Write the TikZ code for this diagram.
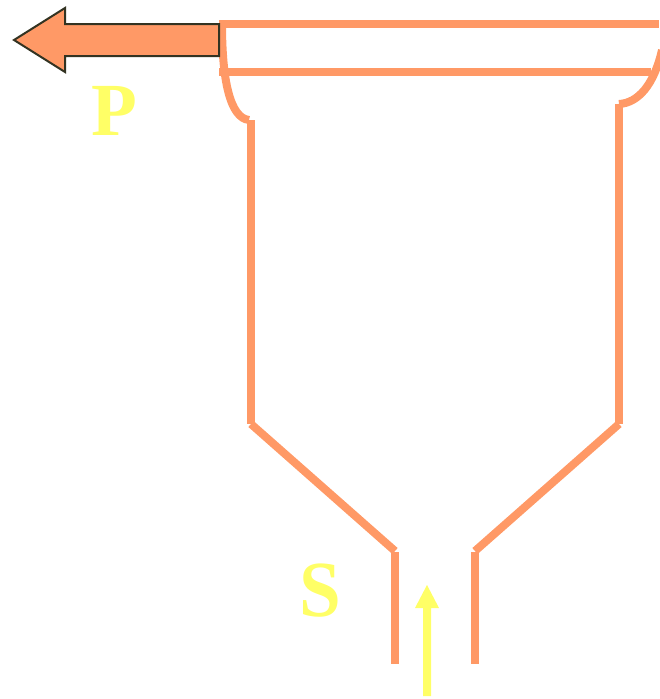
\documentclass[tikz,border=0pt]{standalone}
\usepackage{fontspec}
\setmainfont{Liberation Serif}
\definecolor{wall}{HTML}{FF9966}
\definecolor{lab}{HTML}{FFFF66}
\definecolor{edge}{HTML}{333322}
\tikzset{
  wallline/.style={draw=wall,line width=8pt,line cap=butt,line join=miter},
  biglabel/.style={text=lab,font=\bfseries\fontsize{75}{75}\selectfont,inner sep=0pt,anchor=base}
}
\begin{document}
\begin{tikzpicture}[x=1pt,y=-1pt]
\useasboundingbox (0,0) rectangle (659,699);
% vessel
\draw[wallline] (219,24) -- (659,24);
\draw[wallline] (219,72) -- (651,72);
\draw[wallline] (222,24) .. controls (222,80) and (230,118) .. (249,120);
\draw[wallline] (251,120) -- (251,424);
\draw[wallline] (662,50) .. controls (654,85) and (638,103) .. (619,104);
\draw[wallline] (619,104) -- (619,424);
\draw[wallline] (251,424) -- (395,551);
\draw[wallline] (619,424) -- (475,551);
\draw[wallline] (395,552) -- (395,664);
\draw[wallline] (475,552) -- (475,664);
% product arrow
\draw[fill=wall,draw=edge,line width=2pt,line join=miter]
  (219,24) -- (65,24) -- (65,8) -- (14,40) -- (65,72) -- (65,56) -- (219,56) -- cycle;
% feed arrow
\fill[lab] (423,696) -- (423,608) -- (415,608) -- (427,585) -- (439,608) -- (431,608) -- (431,696) -- cycle;
% labels
\node[biglabel] (P) at (114,135) {P};
\node[biglabel,yscale=1.06] (S) at (320,616) {S};
\end{tikzpicture}
\end{document}
